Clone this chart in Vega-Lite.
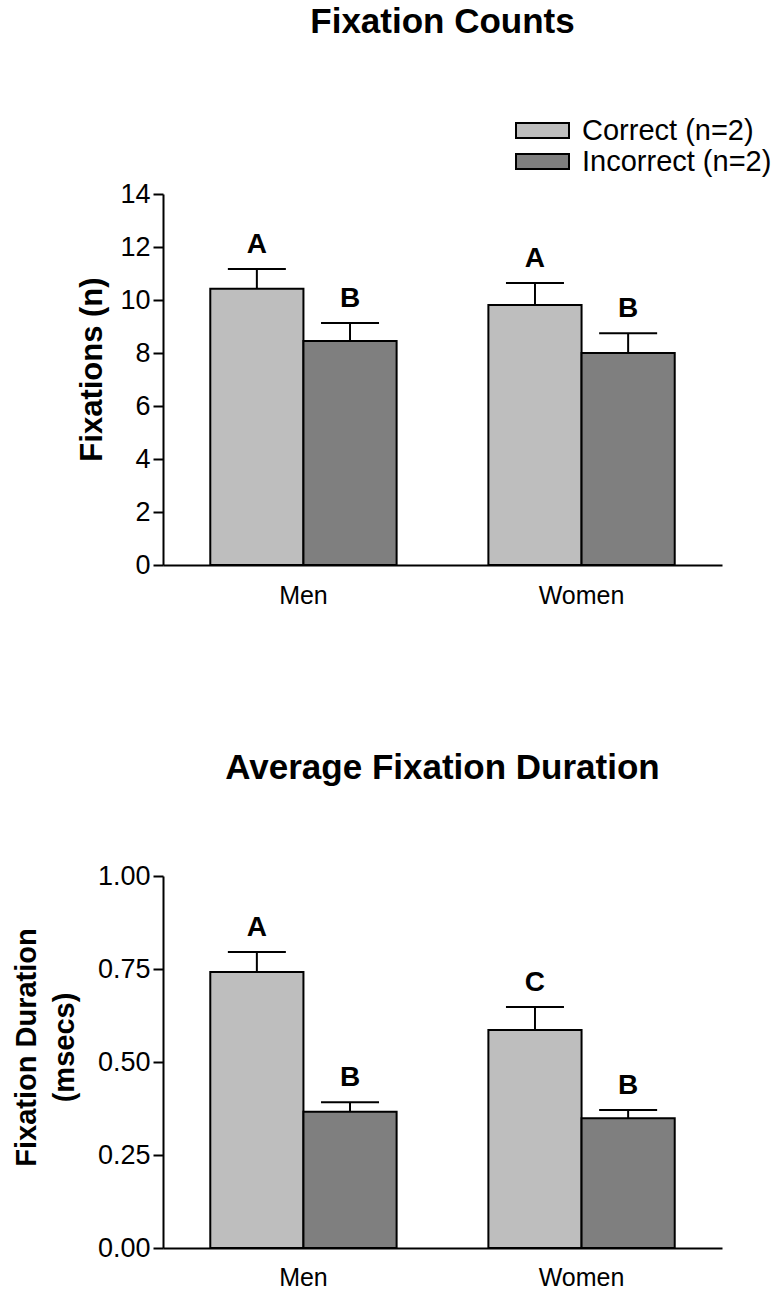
{
  "$schema": "https://vega.github.io/schema/vega-lite/v6.json",
  "padding": {"left": 12, "top": 5, "right": 0, "bottom": 0},
  "background": "#ffffff",
  "config": {
    "font": "Liberation Sans",
    "view": {"stroke": null},
    "axis": {
      "domainColor": "#000000", "domainWidth": 2, "tickColor": "#000000", "tickWidth": 2, "tickSize": 10,
      "labelColor": "#000000", "titleColor": "#000000", "grid": false,
      "labelFontSize": 25, "titleFontSize": 29, "titleFontWeight": "bold",
      "labelFont": "Liberation Sans", "titleFont": "Liberation Sans"
    },
    "title": {"fontSize": 35, "fontWeight": "bold", "color": "#000000", "font": "Liberation Sans", "anchor": "middle"},
    "concat": {"spacing": 143}
  },
  "datasets": {
    "d": [
      {"panel": "counts", "sex": "Men", "group": "Correct (n=2)", "value": 10.42, "upper": 11.17, "letter": "A"},
      {"panel": "counts", "sex": "Men", "group": "Incorrect (n=2)", "value": 8.45, "upper": 9.13, "letter": "B"},
      {"panel": "counts", "sex": "Women", "group": "Correct (n=2)", "value": 9.81, "upper": 10.64, "letter": "A"},
      {"panel": "counts", "sex": "Women", "group": "Incorrect (n=2)", "value": 8.0, "upper": 8.75, "letter": "B"},
      {"panel": "duration", "sex": "Men", "group": "Correct (n=2)", "value": 0.742, "upper": 0.796, "letter": "A"},
      {"panel": "duration", "sex": "Men", "group": "Incorrect (n=2)", "value": 0.366, "upper": 0.392, "letter": "B"},
      {"panel": "duration", "sex": "Women", "group": "Correct (n=2)", "value": 0.586, "upper": 0.648, "letter": "C"},
      {"panel": "duration", "sex": "Women", "group": "Incorrect (n=2)", "value": 0.349, "upper": 0.371, "letter": "B"}
    ]
  },
  "resolve": {"scale": {"color": "independent"}},
  "vconcat": [
    {
      "title": {"text": "Fixation Counts", "offset": 76},
      "width": 559,
      "height": 371,
      "data": {"name": "d"},
      "transform": [{"filter": "datum.panel == 'counts'"}],
      "encoding": {
        "x": {"field": "sex", "type": "nominal", "sort": ["Men", "Women"],
              "scale": {"paddingInner": 0.33, "paddingOuter": 0.17},
              "axis": {"title": null, "labelAngle": 0, "ticks": false, "labelPadding": 18}},
        "xOffset": {"field": "group", "type": "nominal", "sort": ["Correct (n=2)", "Incorrect (n=2)"],
                    "scale": {"paddingInner": 0, "paddingOuter": 0}}
      },
      "layer": [
        {
          "mark": {"type": "bar", "stroke": "#000000", "strokeWidth": 2},
          "encoding": {
            "y": {"field": "value", "type": "quantitative", "scale": {"domain": [0, 14], "nice": false},
                  "axis": {"values": [0, 2, 4, 6, 8, 10, 12, 14], "title": "Fixations (n)", "titleFontSize": 31, "titlePadding": 11, "labelPadding": 3, "labelFontSize": 27, "titleY": 175}},
            "color": {"field": "group", "type": "nominal", "sort": ["Correct (n=2)", "Incorrect (n=2)"],
                      "scale": {"range": ["#bebebe", "#7f7f7f"]},
                      "legend": {"title": null, "orient": "none", "legendX": 365, "legendY": -78, "padding": 0,
                                 "symbolType": "M-2.65,-0.75H2.65V0.75H-2.65Z", "symbolSize": 400,
                                 "symbolStrokeColor": "#000000", "symbolStrokeWidth": 2, "symbolOpacity": 1,
                                 "labelFontSize": 29, "labelOffset": 25, "labelLimit": 400, "rowPadding": 1, "labelColor": "#000000",
                                 "labelFont": "Liberation Sans"}}
          }
        },
        {
          "mark": {"type": "rule", "strokeWidth": 2, "color": "#000000"},
          "encoding": {"y": {"field": "value", "type": "quantitative"}, "y2": {"field": "upper"}}
        },
        {
          "mark": {"type": "tick", "size": 58, "thickness": 2, "color": "#000000", "opacity": 1},
          "encoding": {"y": {"field": "upper", "type": "quantitative"}}
        },
        {
          "mark": {"type": "text", "fontSize": 28, "fontWeight": "bold", "baseline": "alphabetic", "dy": -16, "color": "#000000"},
          "encoding": {"y": {"field": "upper", "type": "quantitative"}, "text": {"field": "letter"}}
        }
      ]
    },
    {
      "title": {"text": "Average Fixation Duration", "offset": 76},
      "width": 559,
      "height": 372,
      "data": {"name": "d"},
      "transform": [{"filter": "datum.panel == 'duration'"}],
      "encoding": {
        "x": {"field": "sex", "type": "nominal", "sort": ["Men", "Women"],
              "scale": {"paddingInner": 0.33, "paddingOuter": 0.17},
              "axis": {"title": null, "labelAngle": 0, "ticks": false, "labelPadding": 17}},
        "xOffset": {"field": "group", "type": "nominal", "sort": ["Correct (n=2)", "Incorrect (n=2)"],
                    "scale": {"paddingInner": 0, "paddingOuter": 0}}
      },
      "layer": [
        {
          "mark": {"type": "bar", "stroke": "#000000", "strokeWidth": 2},
          "encoding": {
            "y": {"field": "value", "type": "quantitative", "scale": {"domain": [0, 1], "nice": false},
                  "axis": {"values": [0, 0.25, 0.5, 0.75, 1], "format": ".2f", "title": ["Fixation Duration", "(msecs)"],
                           "titleLineHeight": 38, "titlePadding": 18, "labelPadding": 3, "labelFontSize": 27, "titleY": 171}},
            "color": {"field": "group", "type": "nominal", "sort": ["Correct (n=2)", "Incorrect (n=2)"],
                      "scale": {"range": ["#bebebe", "#7f7f7f"]}, "legend": null}
          }
        },
        {
          "mark": {"type": "rule", "strokeWidth": 2, "color": "#000000"},
          "encoding": {"y": {"field": "value", "type": "quantitative"}, "y2": {"field": "upper"}}
        },
        {
          "mark": {"type": "tick", "size": 58, "thickness": 2, "color": "#000000", "opacity": 1},
          "encoding": {"y": {"field": "upper", "type": "quantitative"}}
        },
        {
          "mark": {"type": "text", "fontSize": 28, "fontWeight": "bold", "baseline": "alphabetic", "dy": -16, "color": "#000000"},
          "encoding": {"y": {"field": "upper", "type": "quantitative"}, "text": {"field": "letter"}}
        }
      ]
    }
  ]
}
